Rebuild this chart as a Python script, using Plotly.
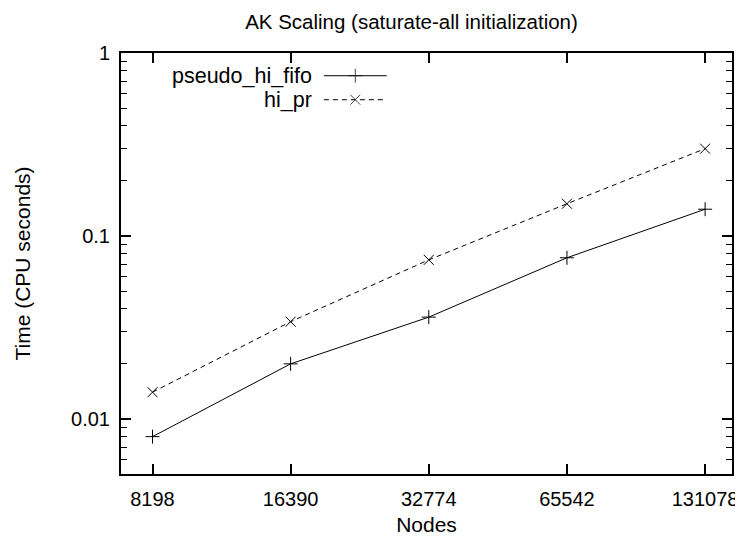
import math
import plotly.graph_objects as go

# data
nodes = [8198, 16390, 32774, 65542, 131078]
pseudo_hi_fifo = [0.008, 0.020, 0.036, 0.076, 0.14]
hi_pr = [0.014, 0.034, 0.074, 0.15, 0.30]

x_tick_text = [str(n) for n in nodes]
y_ticks = [0.01, 0.1, 1]
y_tick_text = ["0.01", "0.1", "1"]
y_minor = [m * 10 ** e for e in (-3, -2, -1) for m in range(2, 10) if m * 10 ** e >= 0.005]

FONT = "Liberation Sans, Arial, sans-serif"

fig = go.Figure()

fig.add_trace(go.Scatter(x=nodes,
                         y=pseudo_hi_fifo,
                         mode="lines+markers",
                         name="pseudo_hi_fifo",
                         line=dict(color="black", width=1),
                         marker=dict(symbol="cross-thin", size=10,
                                     line=dict(color="black", width=1))))

fig.add_trace(go.Scatter(x=nodes,
                         y=hi_pr,
                         mode="lines+markers",
                         name="hi_pr",
                         line=dict(color="black", width=1, dash="5px,4px"),
                         marker=dict(symbol="x-thin", size=10,
                                     line=dict(color="black", width=1))))

# gnuplot style key: text on the left, sample on the right
key_rows = [("pseudo_hi_fifo", "solid", "cross-thin", 0.946),
            ("hi_pr", "5px,4px", "x-thin", 0.889)]
for label, dash, symbol, ky in key_rows:
    fig.add_trace(go.Scatter(x=[0.332, 0.3835, 0.435],
                             y=[ky, ky, ky],
                             xaxis="x2", yaxis="y2",
                             mode="lines+markers",
                             showlegend=False,
                             hoverinfo="skip",
                             line=dict(color="black", width=1, dash=dash),
                             marker=dict(symbol=symbol, size=[0, 10, 0],
                                         line=dict(color="black", width=1))))
    fig.add_annotation(x=0.316, y=ky, xref="paper", yref="paper",
                       text=label, showarrow=False,
                       xanchor="right", yanchor="middle",
                       font=dict(family=FONT, size=21.5, color="black"))

# the page body keeps an 8px margin, so the figure is drawn 8px smaller
fig.update_layout(
    width=735,
    height=528,
    margin=dict(l=113, r=11, t=45, b=62),
    paper_bgcolor="white",
    plot_bgcolor="white",
    showlegend=False,
    font=dict(family=FONT, size=20, color="black"),
    title=dict(text="AK Scaling (saturate-all initialization)",
               x=0.549, xref="container", xanchor="center",
               y=1 - 14 / 528, yref="container", yanchor="middle",
               font=dict(family=FONT, size=20.5, color="black")),
    xaxis=dict(type="log",
               range=[math.log10(7000), math.log10(150000)],
               tickvals=nodes,
               ticktext=x_tick_text,
               ticks="inside", ticklen=10, tickwidth=1.5, tickcolor="black",
               showline=True, linewidth=2, linecolor="black", mirror="ticks",
               showgrid=False, zeroline=False, automargin=False,
               ticklabelstandoff=6,
               tickfont=dict(family=FONT, size=20, color="black"),
               title=dict(text="Nodes", standoff=12,
                          font=dict(family=FONT, size=21, color="black"))),
    yaxis=dict(type="log",
               range=[math.log10(0.005), 0],
               tickvals=y_ticks,
               ticktext=y_tick_text,
               ticks="inside", ticklen=10, tickwidth=1.5, tickcolor="black",
               minor=dict(tickvals=y_minor, ticks="inside", ticklen=6,
                          tickwidth=1, tickcolor="black", showgrid=False),
               showline=True, linewidth=2, linecolor="black", mirror="ticks",
               showgrid=False, zeroline=False, automargin=False,
               ticklabelstandoff=5,
               tickfont=dict(family=FONT, size=20, color="black"),
               title=dict(text="Time (CPU seconds)", standoff=35,
                          font=dict(family=FONT, size=21, color="black"))),
    xaxis2=dict(range=[0, 1], overlaying="x", visible=False),
    yaxis2=dict(range=[0, 1], overlaying="y", visible=False),
)

fig.write_html("out.html")
